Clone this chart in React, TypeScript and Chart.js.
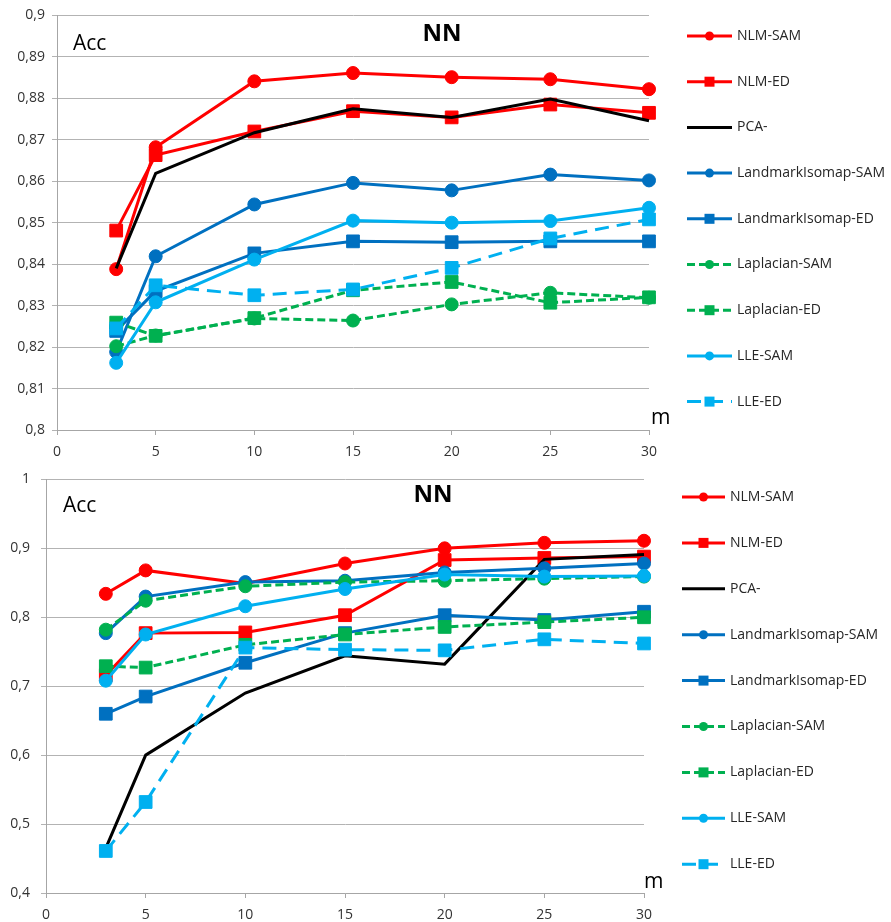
import { useEffect, useRef } from 'react';
import { Chart, registerables } from 'chart.js';

Chart.register(...registerables);

const xValues = [3, 5, 10, 15, 20, 25, 30];

const seriesNames = [
  'NLM-SAM',
  'NLM-ED',
  'PCA-',
  'LandmarkIsomap-SAM',
  'LandmarkIsomap-ED',
  'Laplacian-SAM',
  'Laplacian-ED',
  'LLE-SAM',
  'LLE-ED',
];

// Top chart values
const topNlmSam = [0.8388, 0.8682, 0.8841, 0.8861, 0.8851, 0.8846, 0.8822];
const topNlmEd = [0.8481, 0.8663, 0.872, 0.8769, 0.8754, 0.8785, 0.8765];
const topPca = [0.839, 0.8619, 0.8717, 0.8775, 0.8754, 0.8798, 0.8746];
const topLiSam = [0.8188, 0.8419, 0.8544, 0.8596, 0.8578, 0.8616, 0.8602];
const topLiEd = [0.8239, 0.8335, 0.8426, 0.8455, 0.8453, 0.8455, 0.8455];
const topLapSam = [0.8202, 0.8228, 0.8269, 0.8264, 0.8303, 0.8331, 0.8319];
const topLapEd = [0.8259, 0.8227, 0.827, 0.8337, 0.8357, 0.8307, 0.832];
const topLleSam = [0.8162, 0.8308, 0.8411, 0.8505, 0.85, 0.8504, 0.8536];
const topLleEd = [0.8245, 0.8349, 0.8325, 0.8339, 0.8391, 0.8462, 0.8508];

// Bottom chart values
const botNlmSam = [0.834, 0.868, 0.849, 0.878, 0.9, 0.908, 0.911];
const botNlmEd = [0.716, 0.777, 0.778, 0.803, 0.883, 0.886, 0.888];
const botPca = [0.465, 0.6, 0.69, 0.744, 0.732, 0.884, 0.891];
const botLiSam = [0.777, 0.83, 0.851, 0.853, 0.865, 0.871, 0.878];
const botLiEd = [0.66, 0.685, 0.734, 0.777, 0.803, 0.796, 0.808];
const botLapSam = [0.782, 0.824, 0.845, 0.851, 0.853, 0.856, 0.859];
const botLapEd = [0.729, 0.727, 0.76, 0.775, 0.786, 0.793, 0.8];
const botLleSam = [0.708, 0.775, 0.816, 0.841, 0.862, 0.859, 0.86];
const botLleEd = [0.461, 0.532, 0.756, 0.753, 0.752, 0.768, 0.762];

const topSeries = [topNlmSam, topNlmEd, topPca, topLiSam, topLiEd, topLapSam, topLapEd, topLleSam, topLleEd];
const botSeries = [botNlmSam, botNlmEd, botPca, botLiSam, botLiEd, botLapSam, botLapEd, botLleSam, botLleEd];

const seriesStyles = [
  { color: '#FF0000', dash: [] as number[], point: 'circle' },
  { color: '#FF0000', dash: [] as number[], point: 'rect' },
  { color: '#000000', dash: [] as number[], point: 'none' },
  { color: '#0070C0', dash: [] as number[], point: 'circle' },
  { color: '#0070C0', dash: [] as number[], point: 'rect' },
  { color: '#00B050', dash: [8, 4], point: 'circle' },
  { color: '#00B050', dash: [8, 4], point: 'rect' },
  { color: '#00B0F0', dash: [] as number[], point: 'circle' },
  { color: '#00B0F0', dash: [14, 8], point: 'rect' },
];

const FONT = "'Open Sans', 'DejaVu Sans', sans-serif";

function buildDatasets(values: number[][]) {
  return values.map((vals, i) => {
    const st = seriesStyles[i];
    const radius = st.point === 'rect' ? 9 : st.point === 'circle' ? 6.5 : 0;
    return {
      label: seriesNames[i],
      data: vals.map((y, j) => ({ x: xValues[j], y })),
      borderColor: st.color,
      backgroundColor: st.color,
      borderWidth: 3,
      borderDash: st.dash,
      pointStyle: st.point === 'rect' ? 'rect' : 'circle',
      pointRadius: radius,
      pointHoverRadius: radius,
      pointBorderWidth: 1,
      pointBorderColor: st.color,
      pointBackgroundColor: st.color,
      tension: 0,
      fill: false,
      clip: false,
      order: -i,
      markerKind: st.point,
    };
  });
}

const sideLegendPlugin = {
  id: 'sideLegend',
  afterDraw(chart: any, _args: any, opts: any) {
    const ctx = chart.ctx as CanvasRenderingContext2D;
    ctx.save();
    chart.data.datasets.forEach((ds: any, i: number) => {
      const y = opts.y0 + i * opts.gap;
      ctx.strokeStyle = ds.borderColor;
      ctx.lineWidth = 3;
      ctx.setLineDash(ds.borderDash || []);
      ctx.beginPath();
      ctx.moveTo(opts.x0, y);
      ctx.lineTo(opts.x1, y);
      ctx.stroke();
      ctx.setLineDash([]);
      const cx = (opts.x0 + opts.x1) / 2;
      ctx.fillStyle = ds.borderColor;
      if (ds.markerKind === 'circle') {
        ctx.beginPath();
        ctx.arc(cx, y, 4.5, 0, Math.PI * 2);
        ctx.fill();
      } else if (ds.markerKind === 'rect') {
        ctx.fillRect(cx - 5, y - 5, 10, 10);
      }
      ctx.fillStyle = '#262626';
      ctx.font = `14px ${FONT}`;
      ctx.textAlign = 'left';
      ctx.textBaseline = 'middle';
      ctx.fillText(ds.label, opts.textX, y);
    });
    ctx.restore();
  },
};

const labelsPlugin = {
  id: 'extraLabels',
  afterDraw(chart: any, _args: any, opts: any) {
    const ctx = chart.ctx as CanvasRenderingContext2D;
    ctx.save();
    ctx.fillStyle = '#000000';
    ctx.textBaseline = 'alphabetic';
    (opts.items || []).forEach((it: any) => {
      ctx.font = `${it.bold ? 'bold ' : ''}${it.size}px ${FONT}`;
      ctx.textAlign = it.align || 'left';
      ctx.fillText(it.text, it.x, it.y);
    });
    ctx.restore();
  },
};

function fmt(v: number) {
  return parseFloat(Number(v).toFixed(2)).toString().replace('.', ',');
}

function makeConfig(cfg: any) {
  return {
    type: 'line' as const,
    data: { datasets: buildDatasets(cfg.series) },
    plugins: [sideLegendPlugin, labelsPlugin],
    options: {
      responsive: false,
      animation: false as const,
      layout: { padding: { top: cfg.padTop, right: cfg.padRight, left: 0, bottom: 0 } },
      plugins: {
        legend: { display: false },
        tooltip: { enabled: false },
        sideLegend: cfg.legend,
        extraLabels: { items: cfg.labels },
      },
      scales: {
        x: {
          type: 'linear' as const,
          min: 0,
          max: 30,
          ticks: {
            stepSize: 5,
            padding: 9,
            color: '#333333',
            font: { family: FONT, size: 14 },
          },
          grid: { drawOnChartArea: false, drawTicks: true, tickLength: 5, color: '#a6a6a6' },
          border: { display: true, color: '#a6a6a6', width: 1 },
          afterFit: (s: any) => {
            s.height = cfg.xAxisHeight;
          },
        },
        y: {
          type: 'linear' as const,
          min: cfg.yMin,
          max: cfg.yMax,
          ticks: {
            stepSize: cfg.yStep,
            padding: cfg.yPad,
            color: '#333333',
            font: { family: FONT, size: 14 },
            callback: (v: any) => fmt(v),
          },
          grid: { drawTicks: true, tickLength: 5, color: '#b3b3b3', lineWidth: 1 },
          border: { display: true, color: '#a6a6a6', width: 1 },
          afterFit: (s: any) => {
            s.width = cfg.yAxisWidth;
          },
        },
      },
    },
  };
}

function ChartCanvas({ cfg, width, height }: { cfg: any; width: number; height: number }) {
  const ref = useRef<HTMLCanvasElement | null>(null);
  useEffect(() => {
    if (!ref.current) return;
    const chart = new Chart(ref.current, makeConfig(cfg) as any);
    return () => chart.destroy();
  }, [cfg]);
  return <canvas ref={ref} width={width} height={height} style={{ display: 'block', width, height }} />;
}

const topCfg = {
  series: topSeries,
  yMin: 0.8,
  yMax: 0.9,
  yStep: 0.01,
  yPad: 7,
  padTop: 14,
  padRight: 242,
  yAxisWidth: 57,
  xAxisHeight: 30,
  legend: { x0: 687, x1: 732, textX: 737, y0: 36, gap: 45.7 },
  labels: [
    { text: 'Acc', x: 73, y: 50, size: 21 },
    { text: 'NN', x: 442, y: 41, size: 24, bold: true, align: 'center' },
    { text: 'm', x: 651, y: 424, size: 21 },
  ],
};

const botCfg = {
  series: botSeries,
  yMin: 0.4,
  yMax: 1,
  yStep: 0.1,
  yPad: 11,
  padTop: 14,
  padRight: 247,
  yAxisWidth: 46,
  xAxisHeight: 29,
  legend: { x0: 682, x1: 725, textX: 730, y0: 37, gap: 45.9 },
  labels: [
    { text: 'Acc', x: 63, y: 52, size: 21 },
    { text: 'NN', x: 433, y: 42, size: 24, bold: true, align: 'center' },
    { text: 'm', x: 644, y: 428, size: 21 },
  ],
};

export default function App() {
  return (
    <div style={{ position: 'absolute', left: 0, top: 0, width: 891, height: 922, background: '#ffffff' }}>
      <ChartCanvas cfg={topCfg} width={891} height={460} />
      <ChartCanvas cfg={botCfg} width={891} height={462} />
    </div>
  );
}
